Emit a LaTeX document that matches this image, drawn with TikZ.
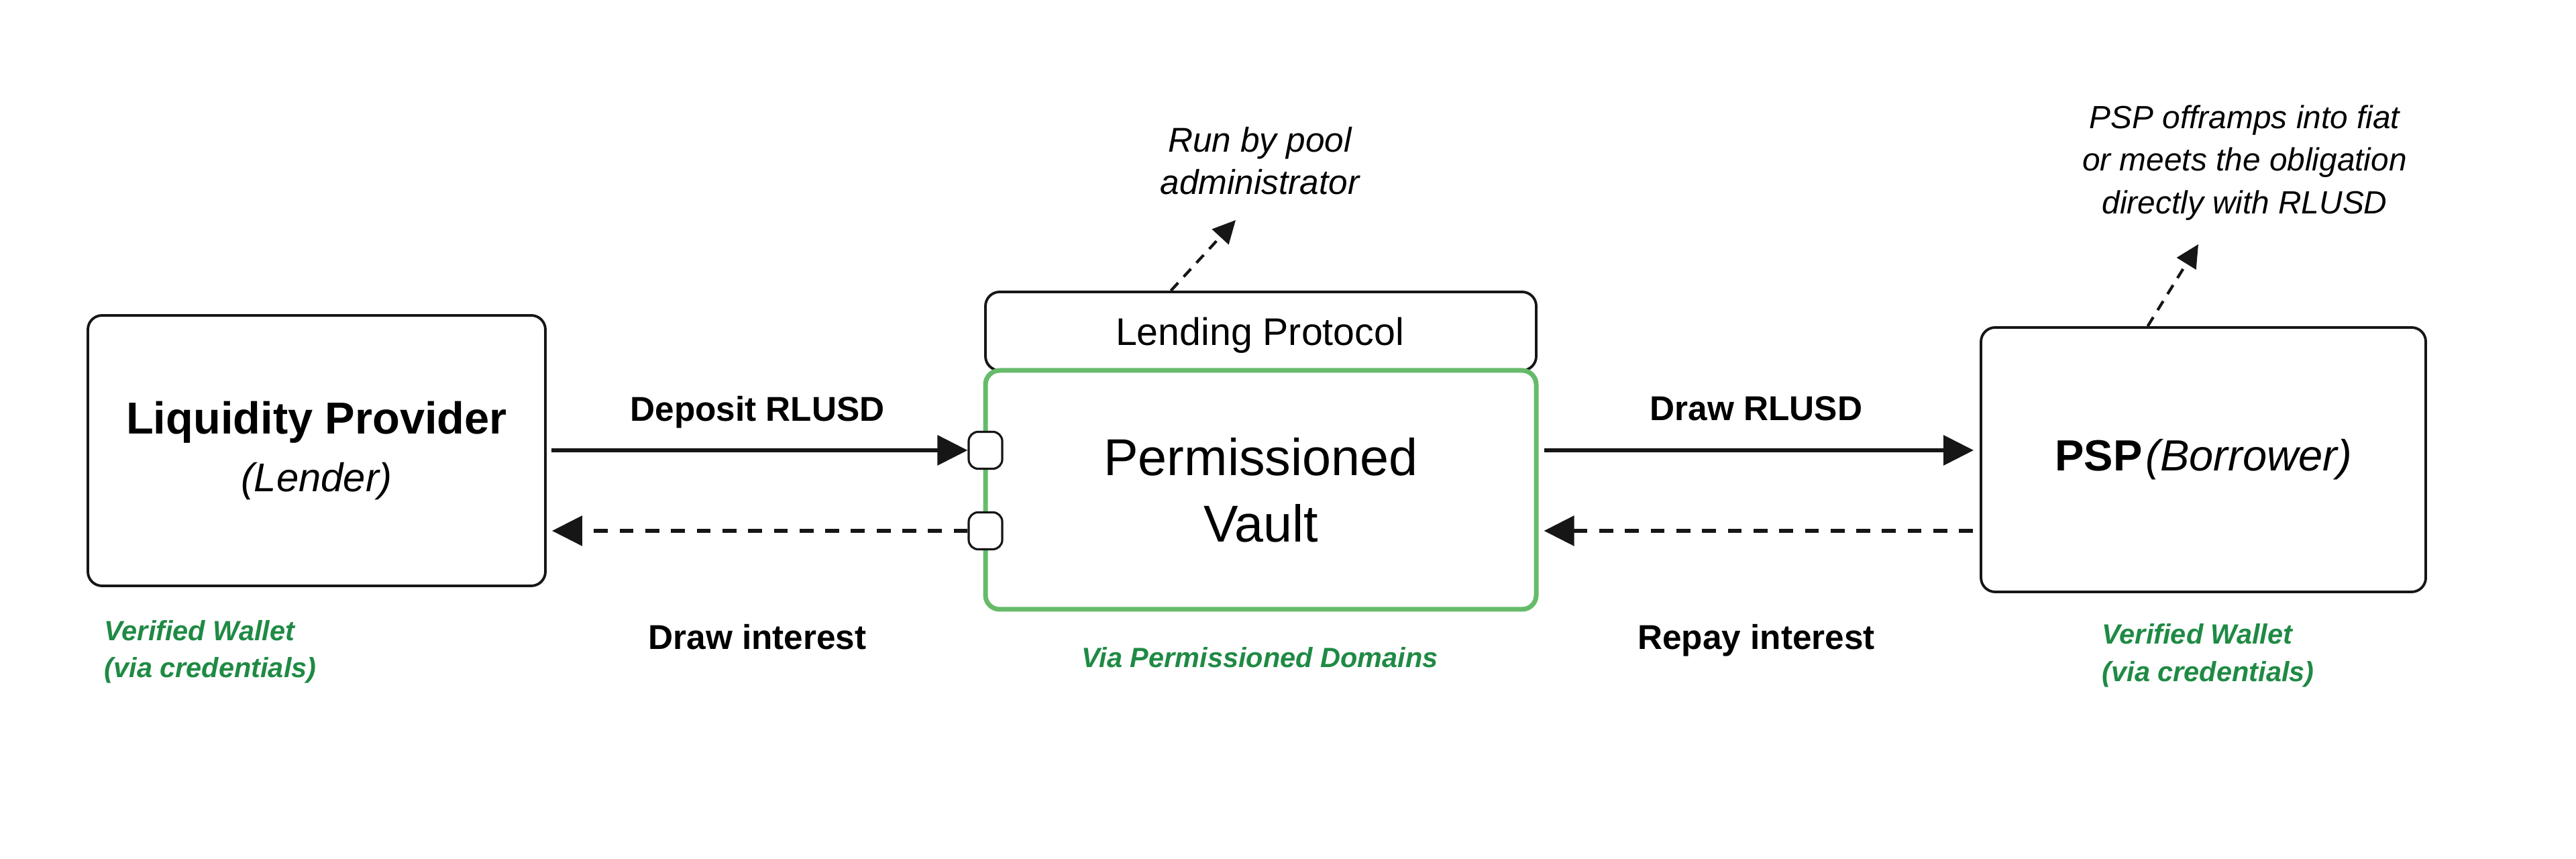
\documentclass[tikz,border=0pt]{standalone}
\usepackage{fontspec}
\setmainfont{Liberation Sans}
\usepackage{tikz}
\usetikzlibrary{arrows.meta, positioning}
\definecolor{vaultgreen}{HTML}{66BB6A}
\definecolor{walletgreen}{HTML}{1F8A44}
\definecolor{inkblack}{HTML}{161616}

\begin{document}
\begin{tikzpicture}[
  box/.style={draw=inkblack, line width=1.1pt, rounded corners=6pt, fill=white, inner sep=0pt},
  port/.style={draw=inkblack, line width=0.9pt, rounded corners=4pt, fill=white,
    minimum width=0.5cm, minimum height=0.55cm, inner sep=0pt},
  flow/.style={draw=inkblack, line width=1.7pt, -{Triangle[length=0.45cm, width=0.44cm]}},
  back/.style={flow, dash pattern=on 5.9pt off 5pt},
  aside/.style={draw=inkblack, line width=1.2pt, dash pattern=on 4.5pt off 3.5pt,
    -{Triangle[length=0.34cm, width=0.33cm]}},
  lbl/.style={font=\fontsize{14.6}{17}\selectfont\bfseries, anchor=base},
  wallet/.style={font=\fontsize{11.8}{15.8}\selectfont\bfseries\itshape, text=walletgreen,
    align=left, inner sep=0pt},
  remark/.style={font=\fontsize{14.6}{17.9}\selectfont\itshape, align=center, inner sep=0pt}
]
  % Margins
  \useasboundingbox (0,0) rectangle (38.4,12.8);

  % Liquidity provider
  \node[box, minimum width=6.82cm, minimum height=4.03cm, align=center,
    font=\fontsize{19}{24.2}\selectfont] (lp) at (4.72,6.085)
    {\textbf{Liquidity Provider}\\\fontsize{17}{24.2}\selectfont\itshape (Lender)};
  \node[wallet, anchor=west] (lpWallet) at (1.55,3.085) {Verified Wallet\\(via credentials)};

  % Lending protocol on top of the vault
  \node[box, minimum width=8.21cm, minimum height=1.17cm,
    font=\fontsize{16.3}{20}\selectfont] (proto) at (18.795,7.865) {};
  \node[anchor=base, font=\fontsize{16.3}{20}\selectfont] (protoText) at (18.78,7.655) {Lending Protocol};
  \node[box, draw=vaultgreen, line width=2pt, minimum width=8.21cm, minimum height=3.56cm,
    align=center, font=\fontsize{22}{28.2}\selectfont] (vault) at (18.795,5.50) {Permissioned\\Vault};
  \node[wallet, anchor=base, align=center] (domains) at (18.78,2.85) {Via Permissioned Domains};

  % Ports on the vault
  \node[port] (depIn) at (14.69,6.09) {};
  \node[port] (intOut) at (14.69,4.89) {};

  % Administrator note
  \node[remark] (adminNote) at (18.78,10.40) {Run by pool\\administrator};
  \coordinate (adminTip) at (18.42,9.52);
  \draw[aside] ([xshift=-1.34cm]proto.north) -- (adminTip);

  % Borrower
  \node[box, minimum width=6.63cm, minimum height=3.94cm,
    font=\fontsize{18.5}{22}\selectfont] (psp) at (32.845,5.95)
    {\textbf{PSP}\kern1.5pt\textit{(Borrower)}};
  \node[wallet, anchor=west] (pspWallet) at (31.33,3.03) {Verified Wallet\\(via credentials)};

  % Offramp note
  \node[remark, font=\fontsize{13.6}{18}\selectfont\itshape] (pspNote) at (33.46,10.375)
    {PSP offramps into fiat\\or meets the obligation\\directly with RLUSD};
  \coordinate (pspTip) at (32.77,9.16);
  \draw[aside] ([xshift=-0.83cm]psp.north) -- (pspTip);

  % Flows between lender and vault
  \draw[flow, shorten <=0.07cm] (lp.east |- depIn) -- (depIn.west);
  \draw[back, shorten >=0.08cm] (intOut.west) -- (lp.east |- intOut);
  \node[lbl] (depLbl) at (11.29,6.52) {Deposit RLUSD};
  \node[lbl] (intLbl) at (11.29,3.12) {Draw interest};

  % Flows between vault and borrower
  \draw[flow, shorten <=0.08cm, shorten >=0.09cm] (vault.east |- depIn) -- (psp.west |- depIn);
  \draw[back, shorten <=0.1cm, shorten >=0.08cm] (psp.west |- intOut) -- (vault.east |- intOut);
  \node[lbl] (drawLbl) at (26.18,6.53) {Draw RLUSD};
  \node[lbl] (repayLbl) at (26.18,3.12) {Repay interest};
\end{tikzpicture}
\end{document}
